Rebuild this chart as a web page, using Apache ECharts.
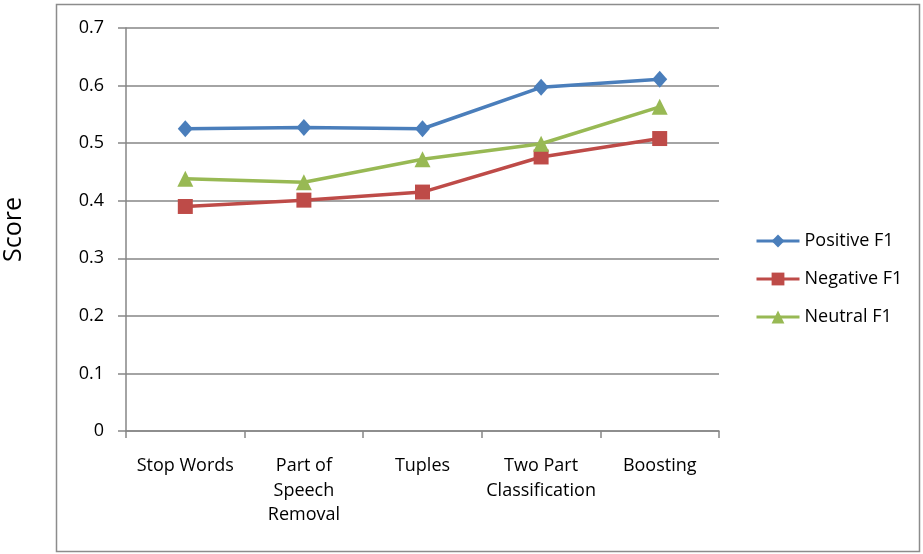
<!DOCTYPE html>
<html><head><meta charset="utf-8">
<script src="https://cdn.jsdelivr.net/npm/echarts@6/dist/echarts.min.js"></script>
<style>html,body{margin:0;padding:0;background:#fff}#c{width:923px;height:554px}</style>
</head><body><div id="c"></div>
<script>
const categories = ["Stop Words", "Part of\nSpeech\nRemoval", "Tuples", "Two Part\nClassification", "Boosting"];
const positiveF1 = [0.525, 0.527, 0.525, 0.597, 0.611];
const negativeF1 = [0.390, 0.401, 0.415, 0.476, 0.508];
const neutralF1 = [0.438, 0.432, 0.472, 0.499, 0.563];
const yTicks = [0, 0.1, 0.2, 0.3, 0.4, 0.5, 0.6, 0.7];

const font = "'Open Sans', sans-serif";
const chart = echarts.init(document.getElementById('c'));
function s(name, data, color, symbol, size) {
  return {name, type: 'line', data, symbol, symbolSize: size, showSymbol: true,
    lineStyle: {color, width: 3.5}, itemStyle: {color}, z: 3, animation: false};
}
chart.setOption({
  animation: false,
  graphic: [{type: 'rect', shape: {x: 56.5, y: 4.5, width: 863, height: 547},
    style: {fill: 'none', stroke: '#8c8c8c', lineWidth: 1.5}, silent: true}],
  grid: {left: 126, right: 204, top: 28, bottom: 123, containLabel: false, outerBoundsMode: 'none'},
  legend: {orient: 'vertical', left: 750, top: 227, itemWidth: 43, itemHeight: 16, itemGap: 20,
    lineStyle: {width: 3},
    textStyle: {fontFamily: font, fontSize: 18, color: '#000'},
    data: ['Positive F1', 'Negative F1', 'Neutral F1']},
  xAxis: {type: 'category', data: categories, boundaryGap: true,
    axisLine: {lineStyle: {color: '#868686', width: 1.5}},
    axisTick: {show: true, length: 7, inside: false, lineStyle: {color: '#868686', width: 1.5}},
    axisLabel: {interval: 0, margin: 23, lineHeight: 24.5, color: '#000', fontFamily: font, fontSize: 18}},
  yAxis: {type: 'value', min: 0, max: 0.7, interval: 0.1,
    name: 'Score', nameLocation: 'middle', nameGap: 100, nameRotate: 90,
    nameTextStyle: {fontFamily: font, fontSize: 25, color: '#000'},
    axisLine: {show: true, lineStyle: {color: '#868686', width: 1.5}},
    axisTick: {show: true, length: 8, lineStyle: {color: '#868686', width: 1.5}},
    splitLine: {lineStyle: {color: '#868686', width: 1.5}},
    axisLabel: {margin: 22, color: '#000', fontFamily: font, fontSize: 18,
      formatter: v => { const t = yTicks.find(x => Math.abs(x - v) < 1e-9); return t === 0 ? '0' : String(t); }}},
  series: [
    s('Positive F1', positiveF1, '#4A7EBB', 'diamond', [15, 17]),
    s('Negative F1', negativeF1, '#BE4B48', 'rect', 15),
    s('Neutral F1', neutralF1, '#98B954', 'triangle', 16)
  ]
});
</script></body></html>
